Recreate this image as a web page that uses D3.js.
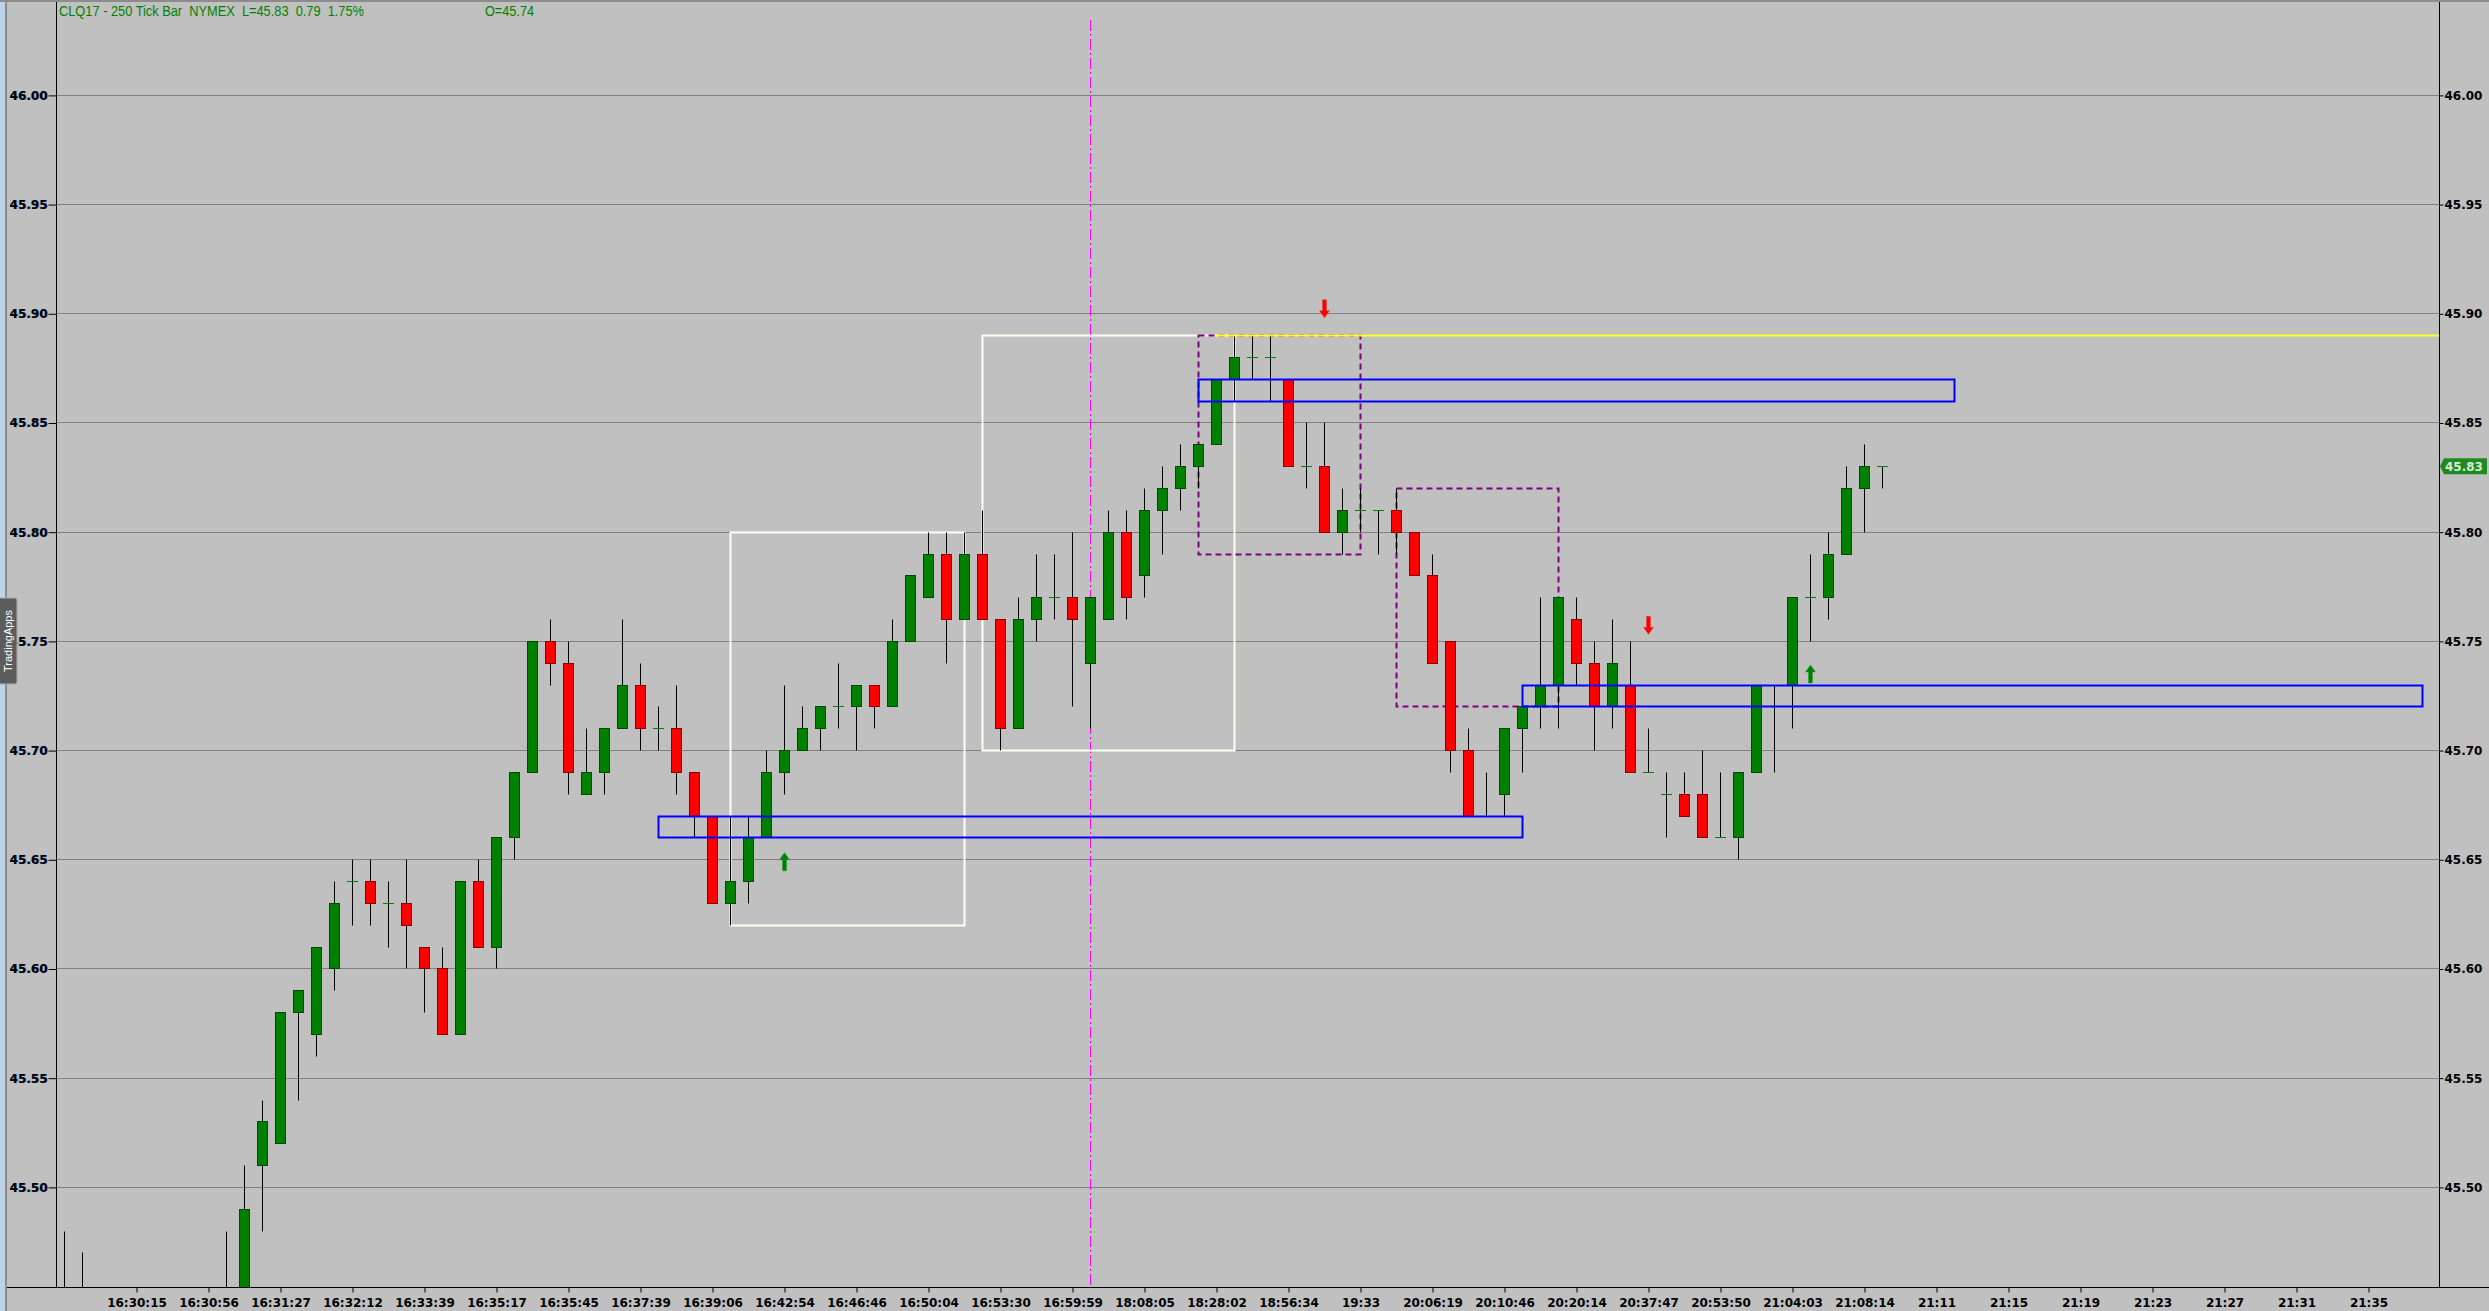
<html>
<head>
  <title>CLQ17 - 250 Tick Bar</title>
  <script src="https://d3js.org/d3.v7.min.js"></script>
  <style>
    body { margin: 0; background: #c0c0c0; overflow: hidden; }
  </style>
</head>
<body>
<div id="chart"></div>
<script>
  // bar values, one entry per 250-tick bar (null = bar is off the bottom of the chart)
  var opens  = [45.45, 45.44, null, null, null, null, null, null, null, 45.42,
                45.44, 45.51, 45.52, 45.58, 45.57, 45.60, 45.64, 45.64, 45.63, 45.63,
                45.61, 45.60, 45.57, 45.64, 45.61, 45.66, 45.69, 45.75, 45.74, 45.68,
                45.69, 45.71, 45.73, 45.71, 45.71, 45.69, 45.67, 45.63, 45.64, 45.66,
                45.69, 45.70, 45.71, 45.72, 45.72, 45.73, 45.72, 45.75, 45.77, 45.79,
                45.76, 45.79, 45.76, 45.71, 45.76, 45.77, 45.77, 45.74, 45.76, 45.80,
                45.78, 45.81, 45.82, 45.83, 45.84, 45.87, 45.88, 45.88, 45.87, 45.83,
                45.83, 45.80, 45.81, 45.81, 45.81, 45.80, 45.78, 45.75, 45.70, 45.67,
                45.68, 45.71, 45.72, 45.73, 45.76, 45.74, 45.72, 45.73, 45.69, 45.68,
                45.68, 45.68, 45.66, 45.66, 45.69, 45.72, 45.73, 45.77, 45.77, 45.79,
                45.82, 45.83];
  var highs  = [45.48, 45.47, null, null, null, null, null, null, null, 45.48,
                45.51, 45.54, 45.58, 45.59, 45.61, 45.64, 45.65, 45.65, 45.64, 45.65,
                45.61, 45.61, 45.64, 45.65, 45.66, 45.69, 45.75, 45.76, 45.75, 45.71,
                45.71, 45.76, 45.74, 45.72, 45.73, 45.69, 45.67, 45.67, 45.67, 45.70,
                45.73, 45.72, 45.72, 45.74, 45.73, 45.73, 45.76, 45.78, 45.80, 45.80,
                45.80, 45.81, 45.76, 45.77, 45.79, 45.79, 45.80, 45.77, 45.81, 45.81,
                45.82, 45.83, 45.84, 45.84, 45.87, 45.89, 45.89, 45.89, 45.87, 45.85,
                45.85, 45.82, 45.82, 45.81, 45.82, 45.80, 45.79, 45.75, 45.71, 45.69,
                45.71, 45.72, 45.77, 45.77, 45.77, 45.75, 45.76, 45.75, 45.71, 45.69,
                45.69, 45.70, 45.69, 45.69, 45.73, 45.73, 45.77, 45.79, 45.80, 45.83,
                45.84, 45.83];
  var lows   = [45.43, 45.42, null, null, null, null, null, null, null, 45.41,
                45.43, 45.48, 45.52, 45.54, 45.56, 45.59, 45.62, 45.62, 45.61, 45.60,
                45.58, 45.57, 45.57, 45.61, 45.60, 45.65, 45.69, 45.73, 45.68, 45.68,
                45.68, 45.71, 45.70, 45.70, 45.68, 45.66, 45.63, 45.62, 45.63, 45.66,
                45.68, 45.70, 45.70, 45.71, 45.70, 45.71, 45.72, 45.75, 45.77, 45.74,
                45.76, 45.76, 45.70, 45.71, 45.75, 45.76, 45.72, 45.71, 45.76, 45.76,
                45.77, 45.79, 45.81, 45.82, 45.84, 45.86, 45.87, 45.86, 45.83, 45.82,
                45.80, 45.79, 45.80, 45.79, 45.79, 45.78, 45.74, 45.69, 45.67, 45.67,
                45.67, 45.69, 45.71, 45.71, 45.73, 45.70, 45.71, 45.69, 45.69, 45.66,
                45.67, 45.66, 45.66, 45.65, 45.69, 45.69, 45.71, 45.75, 45.76, 45.79,
                45.80, 45.82];
  var closes = [45.44, 45.43, null, null, null, null, null, null, null, 45.44,
                45.49, 45.53, 45.58, 45.59, 45.61, 45.63, 45.64, 45.63, 45.63, 45.62,
                45.60, 45.57, 45.64, 45.61, 45.66, 45.69, 45.75, 45.74, 45.69, 45.69,
                45.71, 45.73, 45.71, 45.71, 45.69, 45.67, 45.63, 45.64, 45.66, 45.69,
                45.70, 45.71, 45.72, 45.72, 45.73, 45.72, 45.75, 45.78, 45.79, 45.76,
                45.79, 45.76, 45.71, 45.76, 45.77, 45.77, 45.76, 45.77, 45.80, 45.77,
                45.81, 45.82, 45.83, 45.84, 45.87, 45.88, 45.88, 45.88, 45.83, 45.83,
                45.80, 45.81, 45.81, 45.81, 45.80, 45.78, 45.74, 45.70, 45.67, 45.67,
                45.71, 45.72, 45.73, 45.77, 45.74, 45.72, 45.74, 45.69, 45.69, 45.68,
                45.67, 45.66, 45.66, 45.69, 45.73, 45.72, 45.77, 45.77, 45.79, 45.82,
                45.83, 45.83];

  // time labels, one every 4 bars starting at bar 4
  var timeLabels = ["16:30:15", "16:30:56", "16:31:27", "16:32:12", "16:33:39", "16:35:17",
                    "16:35:45", "16:37:39", "16:39:06", "16:42:54", "16:46:46", "16:50:04",
                    "16:53:30", "16:59:59", "18:08:05", "18:28:02", "18:56:34", "19:33",
                    "20:06:19", "20:10:46", "20:20:14", "20:37:47", "20:53:50", "21:04:03",
                    "21:08:14", "21:11", "21:15", "21:19", "21:23", "21:27", "21:31", "21:35"];
  var labelEvery = 4;
  var priceTicks = [45.50, 45.55, 45.60, 45.65, 45.70, 45.75, 45.80, 45.85, 45.90, 45.95, 46.00];

  // drawings on the chart (bar index / price)
  var whiteBoxes  = [{from: 37, to: 50, lo: 45.62, hi: 45.80}, {from: 51, to: 65, lo: 45.70, hi: 45.89}];
  var blueZones   = [{from: 33, to: 81, lo: 45.66, hi: 45.67}, {from: 63, to: 105, lo: 45.86, hi: 45.87},
                     {from: 81, to: 131, lo: 45.72, hi: 45.73}];
  var purpleBoxes = [{from: 63, to: 72, lo: 45.79, hi: 45.89}, {from: 74, to: 83, lo: 45.72, hi: 45.82}];
  var downArrows  = [{i: 70, p: 45.898}, {i: 88, p: 45.753}];
  var upArrows    = [{i: 40, p: 45.653}, {i: 97, p: 45.739}];
  var highLevel   = {from: 64, p: 45.89};
  var cursorBar   = 57;
  var lastPrice   = 45.83;

  var width = 2489, height = 1311;
  var plot = {left: 56, right: 2439, top: 2, bottom: 1287};

  var x = d3.scaleLinear().domain([-8 / 18, (2383 - 8) / 18]).range([plot.left, plot.right]);
  var y = d3.scaleLinear().domain([45.5, 46.0]).range([1186.9, 94.9]);
  function px(i) { return Math.round(x(i)); }
  function py(p) { return Math.round(y(p)) + 0.5; }

  var svg = d3.select('#chart').append('svg')
      .attr('width', width).attr('height', height);

  svg.append('rect').attr('width', width).attr('height', height).attr('fill', '#c0c0c0');

  svg.append('defs').append('clipPath').attr('id', 'plotclip')
    .append('rect')
      .attr('x', plot.left).attr('y', plot.top)
      .attr('width', plot.right - plot.left).attr('height', plot.bottom - plot.top);

  // window edge on the left
  svg.append('rect').attr('x', 0).attr('y', 0).attr('width', 5).attr('height', height).attr('fill', '#bcd3ea');
  svg.append('line').attr('x1', 6).attr('x2', 6).attr('y1', 0).attr('y2', height)
      .attr('stroke', '#8c8c8c').attr('stroke-width', 2);
  svg.append('line').attr('x1', 0).attr('x2', width).attr('y1', 1).attr('y2', 1)
      .attr('stroke', '#8c8c8c').attr('stroke-width', 2);

  // horizontal grid
  svg.append('g').selectAll('line').data(priceTicks).join('line')
      .attr('x1', plot.left).attr('x2', plot.right)
      .attr('y1', function(d) { return py(d); }).attr('y2', function(d) { return py(d); })
      .attr('stroke', '#808080');

  // drawings that sit under the bars
  var under = svg.append('g').attr('clip-path', 'url(#plotclip)');
  var over = svg.append('g').attr('clip-path', 'url(#plotclip)');
  var cg = svg.append('g').attr('clip-path', 'url(#plotclip)');
  over.raise();

  under.append('line')
      .attr('x1', px(cursorBar) + 0.5).attr('x2', px(cursorBar) + 0.5)
      .attr('y1', 20).attr('y2', plot.bottom)
      .attr('stroke', '#ff00ff').attr('stroke-dasharray', '11,3,2,3');

  function boxes(g, data, color, w, dash) {
    g.append('g').selectAll('rect').data(data).join('rect')
        .attr('x', function(d) { return px(d.from) + 0.5; })
        .attr('y', function(d) { return py(d.hi); })
        .attr('width', function(d) { return px(d.to) - px(d.from); })
        .attr('height', function(d) { return py(d.lo) - py(d.hi); })
        .attr('fill', 'none')
        .attr('stroke', color)
        .attr('stroke-width', w)
        .attr('stroke-dasharray', dash);
  }
  boxes(under, whiteBoxes, '#fffff4', 2, null);
  boxes(under, purpleBoxes, '#800080', 2, '6,4');

  // candles
  var bars = d3.range(opens.length).filter(function(i) { return opens[i] !== null; })
    .map(function(i) { return {i: i, o: opens[i], h: highs[i], l: lows[i], c: closes[i]}; });

  cg.selectAll('.wick').data(bars).join('line')
      .attr('class', 'wick')
      .attr('x1', function(d) { return px(d.i) + 0.5; })
      .attr('x2', function(d) { return px(d.i) + 0.5; })
      .attr('y1', function(d) { return py(d.h); })
      .attr('y2', function(d) { return py(d.l); })
      .attr('stroke', '#000');

  cg.selectAll('.body').data(bars.filter(function(d) { return d.o !== d.c; })).join('rect')
      .attr('class', 'body')
      .attr('x', function(d) { return px(d.i) - 4.5; })
      .attr('width', 10)
      .attr('y', function(d) { return py(Math.max(d.o, d.c)); })
      .attr('height', function(d) { return py(Math.min(d.o, d.c)) - py(Math.max(d.o, d.c)); })
      .attr('fill', function(d) { return d.c > d.o ? '#008000' : '#ff0000'; })
      .attr('stroke', function(d) { return d.c > d.o ? '#004a00' : '#8a0000'; });

  cg.selectAll('.doji').data(bars.filter(function(d) { return d.o === d.c; })).join('line')
      .attr('class', 'doji')
      .attr('x1', function(d) { return px(d.i) - 5; })
      .attr('x2', function(d) { return px(d.i) + 6; })
      .attr('y1', function(d) { return py(d.o); })
      .attr('y2', function(d) { return py(d.o); })
      .attr('stroke', '#008000');

  // drawings on top of the bars
  over.raise();
  boxes(over, blueZones, '#0000ff', 2, null);

  over.append('line')
      .attr('x1', px(highLevel.from)).attr('x2', plot.right)
      .attr('y1', py(highLevel.p)).attr('y2', py(highLevel.p))
      .attr('stroke', '#ffff20').attr('stroke-width', 2);

  // signal arrows, drawn from the tip
  var downPath = 'M0,0 L-5,-7 L-2,-7 L-2,-18 L2,-18 L2,-7 L5,-7 Z';
  var upPath = 'M0,0 L-5,7 L-2,7 L-2,18 L2,18 L2,7 L5,7 Z';
  over.append('g').selectAll('path').data(downArrows).join('path')
      .attr('d', downPath)
      .attr('transform', function(d) { return 'translate(' + (px(d.i) + 0.5) + ',' + y(d.p) + ')'; })
      .attr('fill', '#ff0000').attr('stroke', '#e04040').attr('stroke-width', 0.5);
  over.append('g').selectAll('path').data(upArrows).join('path')
      .attr('d', upPath)
      .attr('transform', function(d) { return 'translate(' + (px(d.i) + 0.5) + ',' + y(d.p) + ')'; })
      .attr('fill', '#008000').attr('stroke', '#2a9a2a').attr('stroke-width', 0.5);

  // frame
  svg.append('line').attr('x1', plot.left + 0.5).attr('x2', plot.left + 0.5)
      .attr('y1', plot.top).attr('y2', plot.bottom).attr('stroke', '#000');
  svg.append('line').attr('x1', plot.right + 0.5).attr('x2', plot.right + 0.5)
      .attr('y1', plot.top).attr('y2', plot.bottom).attr('stroke', '#000');
  svg.append('line').attr('x1', 7).attr('x2', width)
      .attr('y1', plot.bottom + 0.5).attr('y2', plot.bottom + 0.5).attr('stroke', '#000');

  // price axes
  var fmt = d3.format('.2f');
  var rightAxis = svg.append('g')
      .attr('transform', 'translate(' + (plot.right + 0.5) + ',0.5)')
      .call(d3.axisRight(y).tickValues(priceTicks).tickSize(4).tickPadding(1).tickFormat(fmt));
  var leftAxisBlue = svg.append('g')
      .attr('transform', 'translate(' + (plot.left + 1.2) + ',0.5)')
      .call(d3.axisLeft(y).tickValues(priceTicks).tickSize(8).tickPadding(1).tickFormat(fmt));
  leftAxisBlue.selectAll('line').remove();
  leftAxisBlue.selectAll('text').attr('fill', '#3a6fc0');
  var leftAxis = svg.append('g')
      .attr('transform', 'translate(' + (plot.left + 0.5) + ',0.5)')
      .call(d3.axisLeft(y).tickValues(priceTicks).tickSize(8).tickPadding(1).tickFormat(fmt));

  [rightAxis, leftAxisBlue, leftAxis].forEach(function(a) {
    a.select('.domain').remove();
    a.attr('font-family', '"DejaVu Sans", Verdana, sans-serif').attr('font-size', 12).attr('font-weight', 'bold');
    a.selectAll('line').attr('stroke', '#000');
  });
  rightAxis.selectAll('text').attr('fill', '#000');
  leftAxis.selectAll('text').attr('fill', '#000');

  // time axis
  var labelIdx = timeLabels.map(function(d, k) { return (k + 1) * labelEvery; });
  var timeAxis = svg.append('g')
      .attr('transform', 'translate(0.5,' + (plot.bottom + 0.5) + ')')
      .call(d3.axisBottom(x).tickValues(labelIdx).tickSize(5).tickPadding(6)
        .tickFormat(function(d, k) { return timeLabels[k]; }));
  timeAxis.select('.domain').remove();
  timeAxis.attr('font-family', '"DejaVu Sans", Verdana, sans-serif').attr('font-size', 12).attr('font-weight', 'bold');
  timeAxis.selectAll('line').attr('stroke', '#000');
  timeAxis.selectAll('text').attr('fill', '#000');

  // last price tag
  var ly = y(lastPrice);
  svg.append('path')
      .attr('d', 'M' + (plot.right + 1) + ',' + ly + ' L' + (plot.right + 5) + ',' + (ly - 8) +
                 ' L2487,' + (ly - 8) + ' L2487,' + (ly + 8) + ' L' + (plot.right + 5) + ',' + (ly + 8) + ' Z')
      .attr('fill', '#1f8a1f');
  svg.append('text')
      .attr('x', plot.right + 6).attr('y', ly + 4.5)
      .attr('font-family', '"DejaVu Sans", Verdana, sans-serif').attr('font-size', 12).attr('font-weight', 'bold')
      .attr('fill', '#d8e8d8')
      .text(fmt(lastPrice));

  // header
  var narrow = '"Liberation Sans Narrow", "Arial Narrow", "Liberation Sans", Arial, sans-serif';
  svg.append('text')
      .attr('x', 59).attr('y', 16)
      .attr('font-family', narrow).attr('font-size', 14)
      .attr('fill', '#008000')
      .attr('textLength', 305).attr('lengthAdjust', 'spacingAndGlyphs')
      .attr('xml:space', 'preserve')
      .text('CLQ17 - 250 Tick Bar  NYMEX  L=45.83  0.79  1.75%');
  svg.append('text')
      .attr('x', 485).attr('y', 16)
      .attr('font-family', narrow).attr('font-size', 14)
      .attr('fill', '#008000')
      .attr('textLength', 49).attr('lengthAdjust', 'spacingAndGlyphs')
      .text('O=45.74');

  // side tab
  svg.append('rect')
      .attr('x', -3).attr('y', 598).attr('width', 20).attr('height', 86).attr('rx', 2)
      .attr('fill', '#5c5c5c').attr('stroke', '#a8a8a8');
  svg.append('text')
      .attr('transform', 'translate(12,641) rotate(-90)')
      .attr('text-anchor', 'middle')
      .attr('font-family', narrow).attr('font-size', 11)
      .attr('fill', '#ffffff')
      .text('TradingApps');
</script>
</body>
</html>
